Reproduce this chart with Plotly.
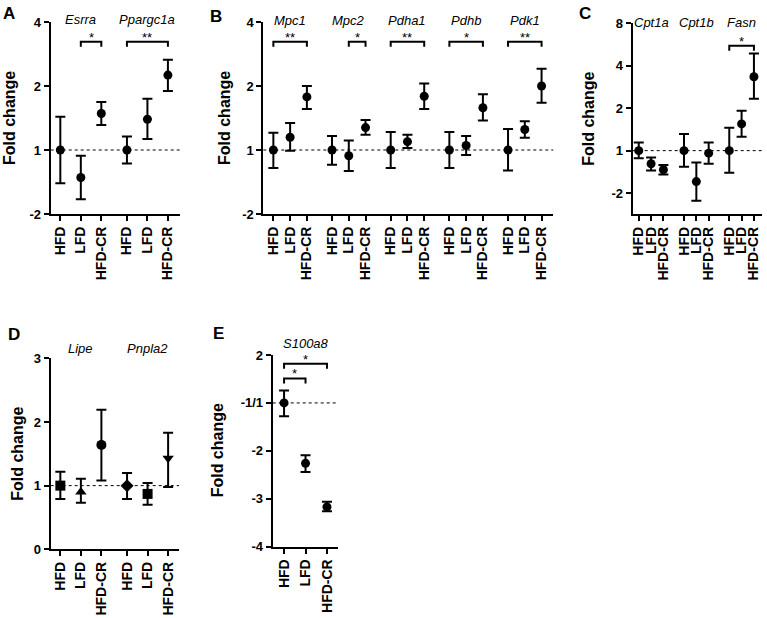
import plotly.graph_objects as go

W, H = 767, 618
FONT = "Liberation Sans, Arial, sans-serif"

conds = ["HFD", "LFD", "HFD-CR"]

# ---------------- Panel A (log2 fold change) ----------------
a_genes = ["Esrra", "Ppargc1a"]
a_mean = [0.00, -0.43, 0.57, 0.00, 0.48, 1.17]
a_err_up = [0.52, 0.34, 0.18, 0.21, 0.32, 0.24]
a_err_dn = [0.52, 0.34, 0.18, 0.21, 0.31, 0.25]
a_yticks = [-1, 0, 1, 2]
a_yticklabels = ["-2", "1", "2", "4"]
a_sig = [(0, 1, 2, 1.69, "*"), (1, 0, 2, 1.69, "**")]

# ---------------- Panel B (log2 fold change) ----------------
b_genes = ["Mpc1", "Mpc2", "Pdha1", "Pdhb", "Pdk1"]
b_mean = [0.00, 0.20, 0.83, 0.00, -0.09, 0.35, 0.00, 0.13, 0.84,
          0.00, 0.07, 0.66, 0.00, 0.32, 1.00]
b_err_up = [0.27, 0.22, 0.17, 0.22, 0.24, 0.12, 0.28, 0.11, 0.20,
            0.28, 0.15, 0.21, 0.33, 0.13, 0.27]
b_err_dn = [0.28, 0.21, 0.19, 0.23, 0.24, 0.11, 0.28, 0.10, 0.20,
            0.28, 0.15, 0.20, 0.32, 0.13, 0.26]
b_yticks = [-1, 0, 1, 2]
b_yticklabels = ["-2", "1", "2", "4"]
b_sig = [(0, 0, 2, 1.69, "**"), (1, 1, 2, 1.69, "*"), (2, 0, 2, 1.69, "**"),
         (3, 0, 2, 1.69, "*"), (4, 0, 2, 1.69, "**")]

# ---------------- Panel C (log2 fold change) ----------------
c_genes = ["Cpt1a", "Cpt1b", "Fasn"]
c_mean = [0.00, -0.31, -0.45, 0.00, -0.73, -0.06, 0.00, 0.63, 1.74]
c_err_up = [0.19, 0.15, 0.11, 0.39, 0.45, 0.25, 0.54, 0.31, 0.55]
c_err_dn = [0.18, 0.16, 0.11, 0.38, 0.45, 0.25, 0.52, 0.30, 0.52]
c_yticks = [-1, 0, 1, 2, 3]
c_yticklabels = ["-2", "1", "2", "4", "8"]
c_sig = [(2, 0, 2, 2.47, "*")]

# ---------------- Panel D (linear fold change) ----------------
d_genes = ["Lipe", "Pnpla2"]
d_mean = [1.00, 0.90, 1.64, 1.00, 0.87, 1.43]
d_err_up = [0.22, 0.21, 0.55, 0.20, 0.17, 0.40]
d_err_dn = [0.21, 0.17, 0.56, 0.21, 0.17, 0.45]
d_symbols = ["square", "triangle-up", "circle", "diamond", "square", "triangle-down"]
d_yticks = [0, 1, 2, 3]
d_yticklabels = ["0", "1", "2", "3"]
d_sig = []

# ---------------- Panel E (signed fold change) ----------------
e_genes = ["S100a8"]
e_mean = [0.00, -1.26, -2.17]
e_err_up = [0.26, 0.17, 0.11]
e_err_dn = [0.28, 0.18, 0.09]
e_yticks = [-3, -2, -1, 0, 1]
e_yticklabels = ["-4", "-3", "-2", "-1/1", "2"]
e_sig = [(0, 0, 1, 0.51, "*"), (0, 0, 2, 0.82, "*")]


def fx(px):
    return px / W


def fy(py):
    return 1 - py / H


panels = [
    dict(letter="A", genes=a_genes, mean=a_mean, up=a_err_up, dn=a_err_dn, gap=0.25,
         box=(50.7, 180, 22, 214), xr=(-0.47, 5.84), yr=(-1, 2), yt=a_yticks, ytl=a_yticklabels,
         sig=a_sig, sym=None, letter_xy=(9, 14), title_x=9, gene_y=20),
    dict(letter="B", genes=b_genes, mean=b_mean, up=b_err_up, dn=b_err_dn, gap=0.5,
         box=(263.3, 553.3, 22, 214), xr=(-0.6, 16.7), yr=(-1, 2), yt=b_yticks, ytl=b_yticklabels,
         sig=b_sig, sym=None, letter_xy=(216, 16), title_x=224, gene_y=21),
    dict(letter="C", genes=c_genes, mean=c_mean, up=c_err_up, dn=c_err_dn, gap=0.67,
         box=(632.7, 761.7, 23.3, 214.3), xr=(-0.49, 9.97), yr=(-1.5, 3), yt=c_yticks, ytl=c_yticklabels,
         sig=c_sig, sym=None, letter_xy=(585, 13), title_x=589, gene_y=22),
    dict(letter="D", genes=d_genes, mean=d_mean, up=d_err_up, dn=d_err_dn, gap=0.25,
         box=(50.7, 179, 358.3, 549.3), xr=(-0.47, 5.78), yr=(0, 3), yt=d_yticks, ytl=d_yticklabels,
         sig=d_sig, sym=d_symbols, letter_xy=(14, 334), title_x=18, gene_y=348),
    dict(letter="E", genes=e_genes, mean=e_mean, up=e_err_up, dn=e_err_dn, gap=0.0,
         box=(272.7, 337.7, 355, 546.7), xr=(-0.53, 2.5), yr=(-3, 1), yt=e_yticks, ytl=e_yticklabels,
         sig=e_sig, sym=None, letter_xy=(218, 333), title_x=217.5, gene_y=343),
]

fig = go.Figure()
shapes = []
annotations = []
layout_axes = {}

for k, p in enumerate(panels):
    n = k + 1
    xname = "x" if n == 1 else f"x{n}"
    yname = "y" if n == 1 else f"y{n}"
    xkey = "xaxis" if n == 1 else f"xaxis{n}"
    ykey = "yaxis" if n == 1 else f"yaxis{n}"
    x0, x1, y0, y1 = p["box"]
    ng = len(p["genes"])
    pos = [g * (3 + p["gap"]) + i for g in range(ng) for i in range(3)]

    fig.add_trace(go.Scatter(
        x=pos, y=p["mean"], mode="markers", xaxis=xname, yaxis=yname,
        marker=dict(color="black", size=9 if p["sym"] is None else 10,
                    symbol=p["sym"] if p["sym"] else "circle"),
        error_y=dict(type="data", symmetric=False, array=p["up"], arrayminus=p["dn"],
                     color="black", thickness=2, width=5),
        showlegend=False, cliponaxis=False,
    ))

    layout_axes[xkey] = dict(
        domain=[fx(x0), fx(x1)], anchor=yname, range=list(p["xr"]),
        tickmode="array", tickvals=pos, ticktext=conds * ng, tickangle=-90,
        showline=True, linecolor="black", linewidth=2, ticks="outside",
        ticklen=5, tickwidth=2, tickcolor="black", showgrid=False, zeroline=False,
        tickfont=dict(family=FONT, size=14, color="black", weight="bold"),
        fixedrange=True, automargin=False,
    )
    layout_axes[ykey] = dict(
        domain=[fy(y1), fy(y0)], anchor=xname, range=list(p["yr"]),
        tickmode="array", tickvals=p["yt"], ticktext=p["ytl"],
        showline=True, linecolor="black", linewidth=2, ticks="outside",
        ticklen=5, tickwidth=2, tickcolor="black", showgrid=False, zeroline=False,
        tickfont=dict(family=FONT, size=13, color="black", weight="bold"),
        fixedrange=True, automargin=False,
    )

    # dotted reference line at fold change 1
    ref = 1 if p["letter"] == "D" else 0
    shapes.append(dict(type="line", xref=f"{xname} domain", yref=yname,
                       x0=0, x1=1, y0=ref, y1=ref,
                       line=dict(color="black", width=1, dash="dot")))

    # significance brackets
    units_per_px = (p["yr"][1] - p["yr"][0]) / (y1 - y0)
    drop = 5 * units_per_px
    for (g, i0, i1, yb, lab) in p["sig"]:
        xa = pos[g * 3 + i0]
        xb = pos[g * 3 + i1]
        shapes.append(dict(type="path", xref=xname, yref=yname,
                           path=f"M {xa},{yb - drop} L {xa},{yb} L {xb},{yb} L {xb},{yb - drop}",
                           line=dict(color="black", width=2)))
        annotations.append(dict(x=(xa + xb) / 2, y=yb, xref=xname, yref=yname,
                                text=lab, showarrow=False, yanchor="bottom", yshift=-5,
                                font=dict(family=FONT, size=13, color="black")))

    # gene labels
    for g, gene in enumerate(p["genes"]):
        annotations.append(dict(x=pos[g * 3 + 1], y=fy(p["gene_y"]), xref=xname, yref="paper",
                                text=f"<i>{gene}</i>", showarrow=False, yanchor="middle",
                                font=dict(family=FONT, size=13, color="black")))

    # panel letter
    annotations.append(dict(x=fx(p["letter_xy"][0]), y=fy(p["letter_xy"][1]), xref="paper", yref="paper",
                            text=f"<b>{p['letter']}</b>", showarrow=False,
                            xanchor="center", yanchor="middle",
                            font=dict(family=FONT, size=17, color="black")))
    # y-axis title
    annotations.append(dict(x=fx(p["title_x"]), y=fy((y0 + y1) / 2), xref="paper", yref="paper",
                            text="<b>Fold change</b>", showarrow=False, textangle=-90,
                            xanchor="center", yanchor="middle",
                            font=dict(family=FONT, size=16, color="black")))

fig.update_layout(
    width=W, height=H, margin=dict(l=0, r=0, t=0, b=0, pad=0, autoexpand=False),
    paper_bgcolor="white", plot_bgcolor="white",
    shapes=shapes, annotations=annotations, showlegend=False,
    **layout_axes,
)

fig.write_html("out.html", config={"displayModeBar": False},
               post_script="document.body.style.margin='0px';")
